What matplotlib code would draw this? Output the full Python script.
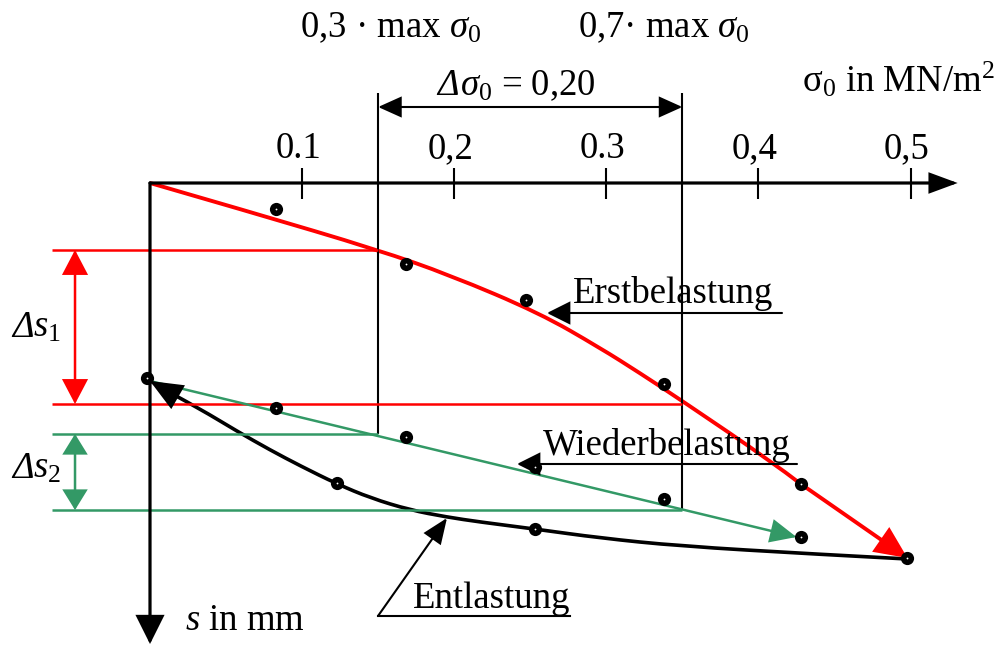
import matplotlib
matplotlib.use("Agg")
import matplotlib.pyplot as plt
import matplotlib.transforms as mtransforms
from matplotlib.path import Path
from matplotlib.patches import PathPatch

plt.rcParams["font.family"] = ["Liberation Serif", "DejaVu Serif"]
plt.rcParams["mathtext.fontset"] = "custom"
plt.rcParams["mathtext.rm"] = "Liberation Serif"
plt.rcParams["mathtext.it"] = "Liberation Serif:italic"

RED, GREEN, BLACK = "#ff0000", "#339966", "#000000"
FS = 26.5

# x: sigma_0 in MN/m2, y: settlement s (schematic, positive downward)
TICKS = [0.1, 0.2, 0.3, 0.4, 0.5]
TICK_LABELS = ["0.1", "0,2", "0.3", "0,4", "0,5"]
SIG_LO, SIG_HI = 0.15, 0.35          # 0,3 and 0,7 * max sigma_0

# Erstbelastung (first loading)
ERST_CURVE_SIG = [0.000, 0.066, 0.150, 0.197, 0.256, 0.296, 0.322, 0.350, 0.410, 0.427, 0.498]
ERST_CURVE_S = [0.00, 0.29, 0.67, 0.92, 1.30, 1.65, 1.90, 2.18, 2.80, 3.00, 3.75]
ERST_PTS_SIG = [0.083, 0.168, 0.247, 0.338, 0.428, 0.498]
ERST_PTS_S = [0.26, 0.81, 1.17, 2.01, 3.01, 3.75]

# Entlastung (unloading), drawn from max load back to sigma = 0
ENT_CURVE_SIG = [0.498, 0.436, 0.348, 0.296, 0.253, 0.217, 0.195, 0.171, 0.145,
                 0.123, 0.099, 0.079, 0.057, 0.033, 0.016, 0.000]
ENT_CURVE_S = [3.76, 3.71, 3.63, 3.55, 3.46, 3.39, 3.34, 3.27, 3.15,
               3.01, 2.83, 2.67, 2.48, 2.26, 2.12, 1.98]
ENT_PTS_SIG = [-0.002, 0.123, 0.253]
ENT_PTS_S = [1.95, 3.00, 3.46]

# Wiederbelastung (reloading)
WIED_LINE_SIG = [0.000, 0.425]
WIED_LINE_S = [1.98, 3.54]
WIED_PTS_SIG = [0.083, 0.168, 0.253, 0.338, 0.428]
WIED_PTS_S = [2.25, 2.54, 2.84, 3.16, 3.54]

# settlements read at SIG_LO / SIG_HI
DS1_S = [0.67, 2.21]
DS2_S = [2.51, 3.27]


def head(length_px, width_px, double=False, ms=10):
    k = ms * 100 / 72
    style = "<|-|>" if double else "-|>"
    return f"{style},head_length={length_px / k:.3f},head_width={width_px / 2 / k:.3f}"


def arrow(ax, tail, tip, color, lw, length_px, width_px, double=False, coords="data"):
    ax.annotate("", xy=tip, xytext=tail, xycoords=coords, textcoords=coords,
                arrowprops=dict(arrowstyle=head(length_px, width_px, double),
                                color=color, lw=lw, shrinkA=0, shrinkB=0,
                                mutation_scale=10, joinstyle="miter"))


def smooth(ax, xs, ys, color, lw):
    # quadratic B-spline through the read nodes (nodes act as control points)
    pts = list(zip(xs, ys))
    verts, codes = [pts[0]], [Path.MOVETO]
    for i in range(1, len(pts) - 1):
        end = pts[-1] if i == len(pts) - 2 else ((pts[i][0] + pts[i + 1][0]) / 2,
                                                 (pts[i][1] + pts[i + 1][1]) / 2)
        verts += [pts[i], end]
        codes += [Path.CURVE3, Path.CURVE3]
    ax.add_patch(PathPatch(Path(verts, codes), fc="none", ec=color, lw=lw, capstyle="butt"))


fig = plt.figure(figsize=(9.97, 6.45), dpi=100)
ax = fig.add_axes([0, 0, 1, 1])
ax.set_xlim(-150 / 1521, 847 / 1521)
ax.set_ylim(4.62, -1.83)
ax.axis("off")
px = mtransforms.Affine2D().scale(1 / 997, -1 / 645).translate(0, 1) + fig.transFigure

# axes with arrows
arrow(ax, (0, 0), (0.531, 0), BLACK, 2.3, 23, 17)
arrow(ax, (0, 0), (0, 4.61), BLACK, 2.3, 24, 24)
ax.vlines(TICKS, -0.15, 0.16, color=BLACK, lw=1.5)
for t, lab in zip(TICKS, TICK_LABELS):
    ax.text(t - 0.0026, -0.25, lab, ha="center", va="baseline", fontsize=FS)

# verticals at 0,3 / 0,7 max sigma and delta sigma arrow
ax.vlines(SIG_LO, -0.90, DS2_S[0], color=BLACK, lw=1.5)
ax.vlines(SIG_HI, -0.90, DS2_S[1], color=BLACK, lw=1.5)
arrow(ax, (SIG_LO, -0.76), (SIG_HI, -0.76), BLACK, 1.5, 20, 18, double=True)

# reference horizontals and delta s arrows
x0 = -0.0644
ax.hlines(DS1_S[0], x0, SIG_LO, color=RED, lw=1.8)
ax.hlines(DS1_S[1], x0, SIG_HI, color=RED, lw=1.8)
ax.hlines(DS2_S[0], x0, SIG_LO, color=GREEN, lw=1.8)
ax.hlines(DS2_S[1], x0, SIG_HI, color=GREEN, lw=1.8)
arrow(ax, (-0.0493, DS1_S[0]), (-0.0493, DS1_S[1]), RED, 1.8, 21, 22, double=True)
arrow(ax, (-0.0493, DS2_S[0]), (-0.0493, DS2_S[1]), GREEN, 1.8, 17, 21, double=True)

# curves
smooth(ax, ERST_CURVE_SIG[:-1], ERST_CURVE_S[:-1], RED, 2.8)
arrow(ax, (ERST_CURVE_SIG[-2], ERST_CURVE_S[-2]), (ERST_CURVE_SIG[-1], ERST_CURVE_S[-1]),
      RED, 2.8, 26, 24)
arrow(ax, (WIED_LINE_SIG[0], WIED_LINE_S[0]), (WIED_LINE_SIG[1], WIED_LINE_S[1]),
      GREEN, 1.8, 22, 20)
smooth(ax, ENT_CURVE_SIG[:-1], ENT_CURVE_S[:-1], BLACK, 2.6)
arrow(ax, (ENT_CURVE_SIG[-2], ENT_CURVE_S[-2]), (ENT_CURVE_SIG[-1], ENT_CURVE_S[-1]),
      BLACK, 2.6, 26, 22)

# measured points
for xs, ys in [(ERST_PTS_SIG, ERST_PTS_S), (ENT_PTS_SIG, ENT_PTS_S), (WIED_PTS_SIG, WIED_PTS_S)]:
    ax.plot(xs, ys, "o", color=BLACK, ms=9.5, mew=0, zorder=5)
    ax.plot(xs, ys, "o", color="white", ms=1.3, mew=0, zorder=6)

# labels (pixel positions)
ax.text(300, 37, "0,3 · max $\\sigma_0$", transform=px, fontsize=FS, va="baseline")
ax.text(578, 37, "0,7· max $\\sigma_0$", transform=px, fontsize=FS, va="baseline")
ax.text(437, 95, "Δ", transform=px, fontsize=FS, va="baseline", style="italic")
ax.text(460, 95, "$\\sigma_0$ = 0,20", transform=px, fontsize=FS, va="baseline")
ax.text(802, 92, "σ$_{\\mathrm{0}}$ in MN/m$^2$", transform=px, fontsize=FS, va="baseline")
for y, sub in [(337, "1"), (478, "2")]:
    ax.text(12, y, "Δ", transform=px, fontsize=FS, va="baseline", style="italic")
    ax.text(33, y, f"$s_{sub}$", transform=px, fontsize=FS, va="baseline")
ax.text(185, 630, "$s$ in mm", transform=px, fontsize=FS, va="baseline")

ax.text(573, 303, "Erstbelastung", transform=px, fontsize=FS, va="baseline")
arrow(ax, (782, 313), (547, 313), BLACK, 1.5, 20, 20, coords=px)
ax.text(543, 455, "Wiederbelastung", transform=px, fontsize=FS, va="baseline")
arrow(ax, (797, 464), (517, 464), BLACK, 1.5, 20, 20, coords=px)
ax.text(413, 608, "Entlastung", transform=px, fontsize=FS, va="baseline")
ax.plot([378, 570], [616, 616], color=BLACK, lw=1.5, transform=px)
arrow(ax, (378, 616), (447, 518), BLACK, 1.5, 22, 18, coords=px)

fig.savefig("out.png", dpi=100)
